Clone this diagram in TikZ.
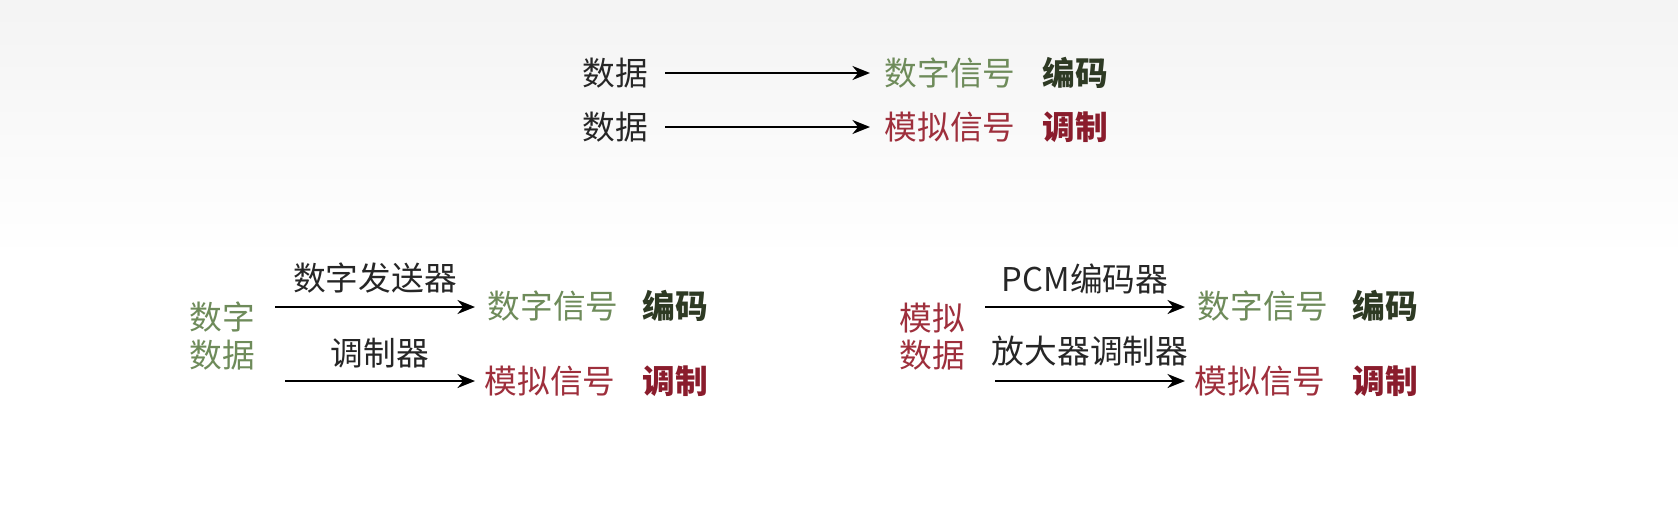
\documentclass[tikz,border=0pt]{standalone}
\usepackage{fontspec}
\setmainfont{Noto Sans CJK SC}
\usetikzlibrary{arrows.meta}
\definecolor{sg}{HTML}{6E8B5A}
\definecolor{sr}{HTML}{9E2F3C}
\definecolor{dg}{HTML}{2E3A24}
\definecolor{dr}{HTML}{8A1C2C}
\begin{document}
\begin{tikzpicture}[x=0.01cm,y=-0.01cm,
  t/.style={font=\fontsize{9.3pt}{11pt}\selectfont,inner sep=0pt},
  g/.style={t,text=sg}, r/.style={t,text=sr},
  bg/.style={t,text=dg,font=\fontsize{9.3pt}{11pt}\selectfont\bfseries},
  br/.style={t,text=dr,font=\fontsize{9.3pt}{11pt}\selectfont\bfseries},
  k/.style={t,text=black!85},
  ar/.style={-{Stealth[length=5pt,width=4pt]},line width=0.6pt}]
\useasboundingbox[top color=gray!9,bottom color=white,middle color=white] (0,0) rectangle (1678,515);
% top
\node[k] (d1) at (615,73) {数据};
\node[g] (s1) at (950,73) {数字信号};
\node[bg] (e1) at (1075,73) {编码};
\node[k] (d2) at (615,127) {数据};
\node[r] (s2) at (950,127) {模拟信号};
\node[br] (e2) at (1075,127) {调制};
\coordinate (a1) at (665,73); \coordinate (b1) at (870,73);
\coordinate (a2) at (665,127); \coordinate (b2) at (870,127);
\draw[ar] (a1) -- (b1);
\draw[ar] (a2) -- (b2);
% bottom left
\node[g] (l1) at (222,317) {数字};
\node[g] (l2) at (222,355) {数据};
\coordinate (la1) at (275,307); \coordinate (lb1) at (475,307);
\coordinate (la2) at (285,381); \coordinate (lb2) at (475,381);
\draw[ar] (la1) -- node[k,above=3.5pt] (ll1) {数字发送器} (lb1);
\draw[ar] (la2) -- node[k,above=3.5pt] (ll2) {调制器} (lb2);
\node[g] (ls1) at (553,306) {数字信号};
\node[bg] (le1) at (675,306) {编码};
\node[r] (ls2) at (550,381) {模拟信号};
\node[br] (le2) at (675,381) {调制};
% bottom right
\node[r] (r1) at (932,318) {模拟};
\node[r] (r2) at (932,355) {数据};
\coordinate (ra1) at (985,307); \coordinate (rb1) at (1185,307);
\coordinate (ra2) at (995,381); \coordinate (rb2) at (1185,381);
\draw[ar] (ra1) -- node[k,above=3.5pt] (rl1) {PCM编码器} (rb1);
\draw[ar] (ra2) -- node[k,above=4pt] (rl2) {放大器调制器} (rb2);
\node[g] (rs1) at (1263,306) {数字信号};
\node[bg] (re1) at (1385,306) {编码};
\node[r] (rs2) at (1260,381) {模拟信号};
\node[br] (re2) at (1385,381) {调制};
\end{tikzpicture}
\end{document}
